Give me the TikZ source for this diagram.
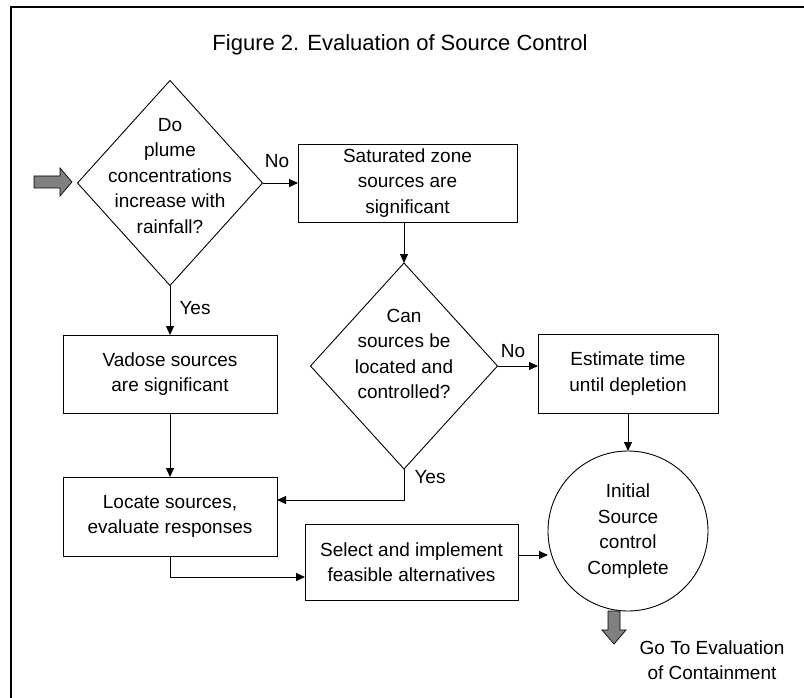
\documentclass[tikz,border=0pt]{standalone}
\usepackage{fontspec}
\setmainfont{Liberation Sans}
\usetikzlibrary{arrows.meta,shapes.geometric}

\begin{document}
\begin{tikzpicture}[x=1pt,y=-1pt,
  every node/.style={inner sep=0pt,outer sep=0pt},
  txt/.style={font=\fontsize{19}{25.5}\selectfont,align=center},
  proc/.style={draw,line width=0.9pt,minimum width=#1,minimum height=78pt},
  decision/.style={draw,line width=0.9pt,diamond,minimum width=185pt,minimum height=205pt},
  terminal/.style={draw,line width=0.9pt,circle,minimum size=160pt},
  arr/.style={line width=0.9pt,-{Triangle[length=9pt,width=8pt]}},
  link/.style={line width=0.9pt},
  lbl/.style={font=\fontsize{19}{22}\selectfont},
  blockarrow/.style={fill=black!50,draw=black,line width=0.7pt}
]
\useasboundingbox (0,0) rectangle (804,698);

% outer frame (top and left edges)
\draw[line width=2pt] (11,698) -- (11,7) -- (804,7);

% title
\node[font=\fontsize{22}{26}\selectfont] (title) at (400,45) {Figure 2. Evaluation of Source Control};

% decisions
\node[decision] (d1) at (170,183) {};
\node[txt] (d1t) at (170,176) {Do\\plume\\concentrations\\increase with\\rainfall?};
\node[decision,minimum width=187pt,minimum height=206pt] (d2) at (404,366) {};
\node[txt] (d2t) at (404,354) {Can\\sources be\\located and\\controlled?};

% process boxes
\node[proc=219pt,txt] (sat) at (407.5,183) {Saturated zone\\sources are\\significant};
\node[proc=214pt,txt] (vad) at (170,374) {Vadose sources\\are significant};
\node[proc=180pt,txt,minimum height=79pt] (est) at (628,373.5) {Estimate time\\until depletion};
\node[proc=214pt,txt,minimum height=79pt] (loc) at (170,516.5) {Locate sources,\\evaluate responses};
\node[proc=213pt,txt,minimum height=76pt] (sel) at (411.5,562) {Select and implement\\feasible alternatives};

% end point
\node[terminal,txt] (done) at (628,531) {Initial\\Source\\control\\Complete};

% entry block arrow
\draw[blockarrow] (34,176) -- (60,176) -- (60,168) -- (72,182) -- (60,196) -- (60,188) -- (34,188) -- cycle;

% exit block arrow
\draw[blockarrow] (608,611) -- (620,611) -- (620,630) -- (626,630) -- (614,644) -- (602,630) -- (608,630) -- cycle;
\node[txt] (next) at (712,660) {Go To Evaluation\\of Containment};

% connectors
\draw[arr] (d1.east) -- (sat.west);
\node[lbl] (no1) at (277,161) {No};
\draw[arr] (d1.south) -- (vad.north);
\node[lbl] (yes1) at (195,308) {Yes};
\draw[arr] (sat.south -| d2.north) -- (d2.north);
\draw[arr] (d2.east) -- (d2.east -| est.west);
\node[lbl] (no2) at (513,351) {No};
\coordinate (j1) at (404,500);
\draw[arr] (d2.south) -- (j1) -- (j1 -| loc.east);
\node[lbl] (yes2) at (430,477) {Yes};
\draw[arr] (vad.south) -- (loc.north);
\coordinate (j2) at (170,577);
\draw[arr] (loc.south) -- (j2) -- (j2 -| sel.west);
\coordinate (j3) at (518,555);
\draw[arr] (j3) -- (j3 -| done.west);
\draw[arr] (est.south) -- (done.north);
\end{tikzpicture}
\end{document}
